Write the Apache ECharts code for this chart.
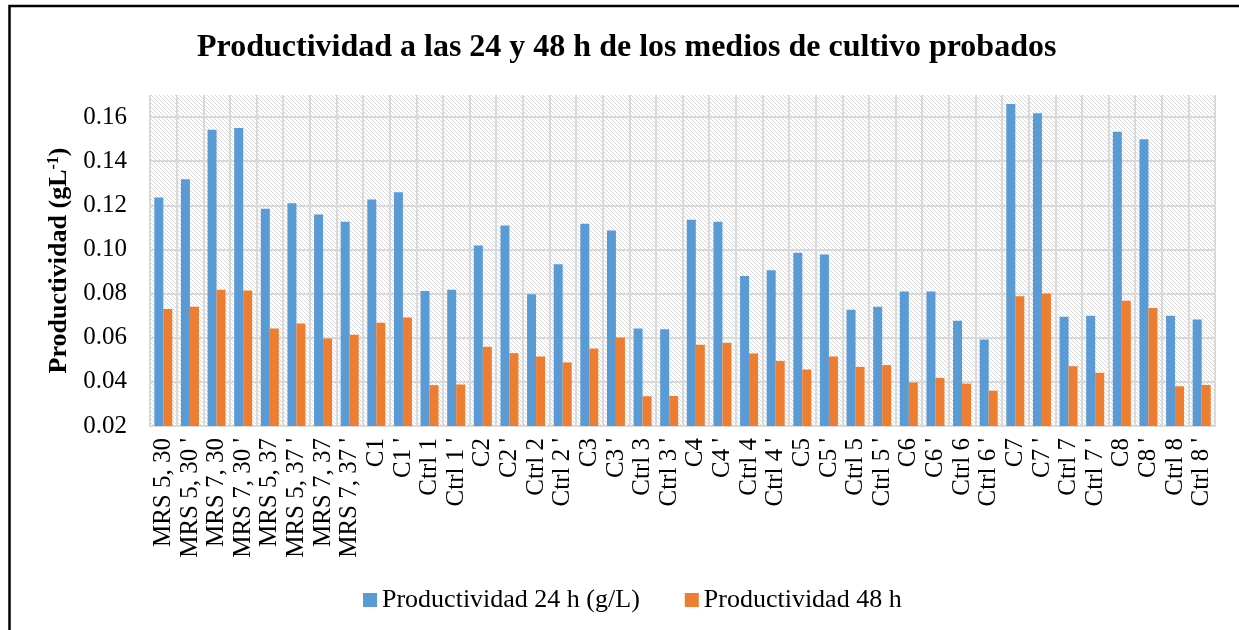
<!DOCTYPE html>
<html>
<head>
<meta charset="utf-8">
<script src="https://cdn.jsdelivr.net/npm/echarts@6/dist/echarts.min.js"></script>
<style>
  html, body { margin: 0; padding: 0; background: #fff; }
  #main { width: 1239px; height: 630px; }
</style>
</head>
<body>
<div id="main"></div>
<script>
// categorias y valores
var categories = [
  "MRS 5, 30", "MRS 5, 30 '", "MRS 7, 30", "MRS 7, 30 '",
  "MRS 5, 37", "MRS 5, 37 '", "MRS 7, 37", "MRS 7, 37 '",
  "C1", "C1 '", "Ctrl 1", "Ctrl 1 '",
  "C2", "C2 '", "Ctrl 2", "Ctrl 2 '",
  "C3", "C3 '", "Ctrl 3", "Ctrl 3 '",
  "C4", "C4 '", "Ctrl 4", "Ctrl 4 '",
  "C5", "C5 '", "Ctrl 5", "Ctrl 5 '",
  "C6", "C6 '", "Ctrl 6", "Ctrl 6 '",
  "C7", "C7 '", "Ctrl 7", "Ctrl 7 '",
  "C8", "C8 '", "Ctrl 8", "Ctrl 8 '"
];
var prod24 = [
  0.1235, 0.1318, 0.1542, 0.1550, 0.1185, 0.1209, 0.1159, 0.1126, 0.1227, 0.1259,
  0.0812, 0.0818, 0.1018, 0.1109, 0.0797, 0.0933, 0.1117, 0.1086, 0.0642, 0.0639,
  0.1135, 0.1126, 0.0880, 0.0906, 0.0985, 0.0977, 0.0727, 0.0740, 0.0809, 0.0809,
  0.0677, 0.0592, 0.1659, 0.1617, 0.0695, 0.0700, 0.1533, 0.1500, 0.0700, 0.0683
];
var prod48 = [
  0.0730, 0.0740, 0.0818, 0.0814, 0.0642, 0.0664, 0.0597, 0.0614, 0.0668, 0.0692,
  0.0385, 0.0388, 0.0559, 0.0530, 0.0515, 0.0488, 0.0551, 0.0601, 0.0335, 0.0336,
  0.0568, 0.0577, 0.0529, 0.0495, 0.0456, 0.0515, 0.0468, 0.0476, 0.0397, 0.0418,
  0.0392, 0.0360, 0.0788, 0.0801, 0.0471, 0.0441, 0.0768, 0.0735, 0.0380, 0.0386
];
var seriesNames = ['Productividad 24 h (g/L)', 'Productividad 48 h'];
var yMin = 0.02, yMax = 0.17, yStep = 0.02;

window.onload = function () {
  var myChart = echarts.init(document.getElementById('main'));

  // trama de lineas diagonales del fondo
  var tile = document.createElement('canvas');
  tile.width = 8; tile.height = 8;
  var ctx = tile.getContext('2d');
  ctx.fillStyle = '#fff';
  ctx.fillRect(0, 0, 8, 8);
  ctx.fillStyle = '#d8d8d8';
  for (var i = 0; i < 8; i++) {
    ctx.fillRect(i, i, 1, 1);
    ctx.fillRect(i, (i + 4) % 8, 1, 1);
  }

  var serif = '"Liberation Serif", "Times New Roman", serif';
  var grey = '#d9d9d9';

  var option = {
    animation: false,
    textStyle: { fontFamily: serif, color: '#000' },
    title: {
      text: 'Productividad a las 24 y 48 h de los medios de cultivo probados',
      left: 197,
      top: 32,
      padding: 0,
      textStyle: { fontFamily: serif, fontSize: 32, fontWeight: 'bold', color: '#000' }
    },
    graphic: [{
      type: 'rect',
      shape: { x: 9.5, y: 6, width: 1400, height: 800 },
      style: { fill: null, stroke: '#000', lineWidth: 2.5 },
      silent: true
    }],
    legend: {
      data: seriesNames,
      left: 358,
      top: 582,
      icon: 'rect',
      itemWidth: 14,
      itemHeight: 14,
      itemGap: 45,
      textStyle: { fontFamily: serif, fontSize: 26, color: '#000' }
    },
    grid: {
      left: 150, right: 24, top: 95, bottom: 204,
      show: true,
      borderWidth: 0,
      backgroundColor: { image: tile, repeat: 'repeat' },
      outerBoundsMode: 'none'
    },
    xAxis: {
      type: 'category',
      data: categories,
      axisLine: { lineStyle: { color: grey, width: 2 } },
      axisTick: { show: false },
      splitLine: { show: true, interval: 0, lineStyle: { color: grey, width: 2 } },
      axisLabel: {
        interval: 0, rotate: 90, margin: 12,
        fontFamily: serif, fontSize: 25, color: '#000'
      }
    },
    yAxis: {
      type: 'value',
      min: yMin, max: yMax, interval: yStep,
      name: '{a|Productividad (gL}{s|-1}{a|)}',
      nameLocation: 'middle',
      nameRotate: 90,
      nameGap: 78,
      nameTextStyle: {
        rich: {
          a: { fontFamily: serif, fontSize: 26, fontWeight: 'bold', color: '#000' },
          s: { fontFamily: serif, fontSize: 16, fontWeight: 'bold', color: '#000', verticalAlign: 'top', padding: [0, 0, 8, 0] }
        }
      },
      axisLine: { show: false },
      axisTick: { show: false },
      splitLine: { showMaxLine: false, lineStyle: { color: grey, width: 2 } },
      axisLabel: {
        margin: 23, fontFamily: serif, fontSize: 25, color: '#000',
        showMaxLabel: false,
        formatter: function (v) { return v.toFixed(2); }
      }
    },
    series: [{
      name: seriesNames[0],
      type: 'bar',
      data: prod24,
      barWidth: 9,
      barGap: '0%',
      itemStyle: { color: '#5b9bd5' }
    }, {
      name: seriesNames[1],
      type: 'bar',
      data: prod48,
      barWidth: 9,
      itemStyle: { color: '#ed7d31' }
    }]
  };
  myChart.setOption(option);
};
</script>
</body>
</html>
